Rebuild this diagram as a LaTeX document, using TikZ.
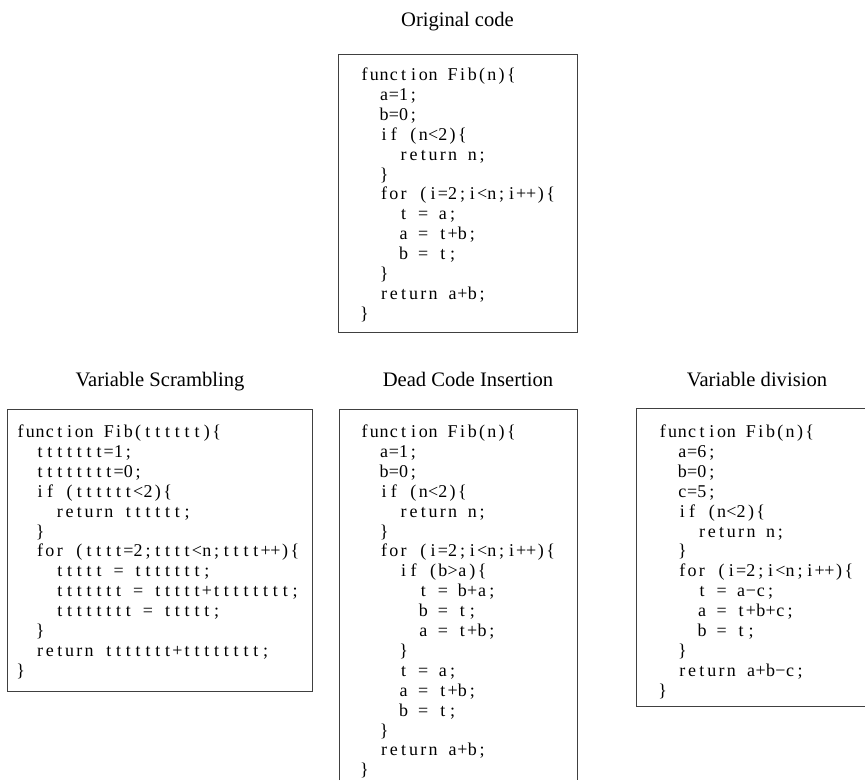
\documentclass[tikz,border=0pt]{standalone}
\usepackage{fontspec}
\setmainfont{Liberation Serif}

% one fixed column per character, as in a listing
\newlength{\codecw}
\setlength{\codecw}{9.8pt}
\ExplSyntaxOn
\NewDocumentCommand \codeline { m }
  { \tl_map_inline:Nn #1 { \makebox[\codecw][c]{##1} } }
\ExplSyntaxOff

\tikzset{
  codeframe/.style={draw=black!75, line width=0.9pt},
  codetext/.style={anchor=base west, inner sep=0pt, font=\fontsize{18}{20}\selectfont},
  boxtitle/.style={anchor=base, inner sep=0pt, font=\fontsize{20.6}{24}\selectfont}
}

\begin{document}
\begin{tikzpicture}[x=1pt, y=-1pt]
  \useasboundingbox (0,0) rectangle (865,780);

  % Titulos
  \node[boxtitle] (origtitle) at (457.5,26.5) {Original code};
  \node[boxtitle] (scrtitle) at (160,386) {Variable Scrambling};
  \node[boxtitle] (deadtitle) at (468,386) {Dead Code Insertion};
  \node[boxtitle] (divtitle) at (757,386) {Variable division};

  % Marcos
  \draw[codeframe] (338.5,54) rectangle (577,332.7);
  \draw[codeframe] (7.5,409) rectangle (312.7,691);
  \draw[codeframe] (339,780) -- (339,409) -- (577,409) -- (577,780);
  \draw[codeframe] (865,408.3) -- (636.7,408.3) -- (636.7,706) -- (865,706);

  % Codigo original
  \foreach \src [count=\i from 0] in {{function~Fib(n)\{}, {~~a=1;}, {~~b=0;},
      {~~if~(n<2)\{}, {~~~~return~n;}, {~~\}}, {~~for~(i=2;i<n;i++)\{},
      {~~~~t~=~a;}, {~~~~a~=~t+b;}, {~~~~b~=~t;}, {~~\}}, {~~return~a+b;}, {\}}}
    \node[codetext] (orig-\i) at (359.4,{80.5+19.9*\i}) {\codeline\src};

  % Variable Scrambling
  \foreach \src [count=\i from 0] in {{function~Fib(tttttt)\{}, {~~ttttttt=1;},
      {~~tttttttt=0;}, {~~if~(tttttt<2)\{}, {~~~~return~tttttt;}, {~~\}},
      {~~for~(tttt=2;tttt<n;tttt++)\{}, {~~~~ttttt~=~ttttttt;},
      {~~~~ttttttt~=~ttttt+tttttttt;}, {~~~~tttttttt~=~ttttt;}, {~~\}},
      {~~return~ttttttt+tttttttt;}, {\}}}
    \node[codetext] (scr-\i) at (15.5,{437.5+19.9*\i}) {\codeline\src};

  % Dead Code Insertion
  \foreach \src [count=\i from 0] in {{function~Fib(n)\{}, {~~a=1;}, {~~b=0;},
      {~~if~(n<2)\{}, {~~~~return~n;}, {~~\}}, {~~for~(i=2;i<n;i++)\{},
      {~~~~if~(b>a)\{}, {~~~~~~t~=~b+a;}, {~~~~~~b~=~t;}, {~~~~~~a~=~t+b;},
      {~~~~\}}, {~~~~t~=~a;}, {~~~~a~=~t+b;}, {~~~~b~=~t;}, {~~\}},
      {~~return~a+b;}, {\}}}
    \node[codetext] (dead-\i) at (359.4,{437.5+19.9*\i}) {\codeline\src};

  % Variable division
  \foreach \src [count=\i from 0] in {{function~Fib(n)\{}, {~~a=6;}, {~~b=0;},
      {~~c=5;}, {~~if~(n<2)\{}, {~~~~return~n;}, {~~\}}, {~~for~(i=2;i<n;i++)\{},
      {~~~~t~=~a−c;}, {~~~~a~=~t+b+c;}, {~~~~b~=~t;}, {~~\}},
      {~~return~a+b−c;}, {\}}}
    \node[codetext] (div-\i) at (657.7,{437.5+19.9*\i}) {\codeline\src};
\end{tikzpicture}
\end{document}
